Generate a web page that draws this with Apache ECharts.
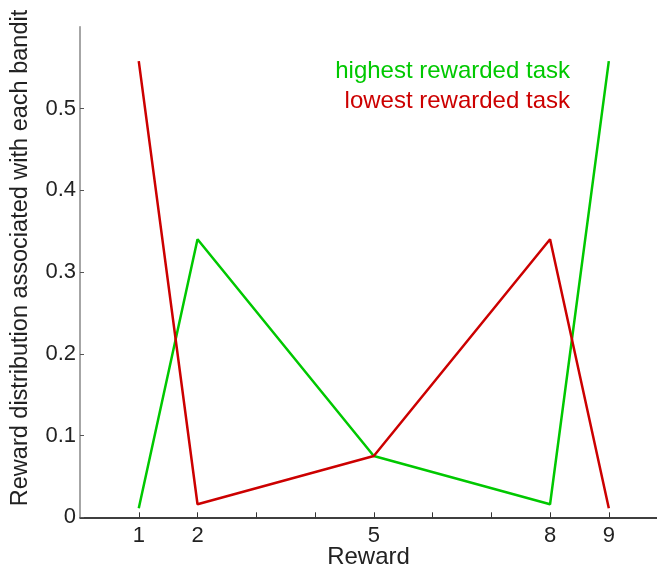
<!DOCTYPE html>
<html>
<head>
<meta charset="utf-8">
<script src="https://cdn.jsdelivr.net/npm/echarts@6/dist/echarts.min.js"></script>
<style>
html,body{margin:0;padding:0;background:#fff;}
#chart{width:657px;height:572px;}
</style>
</head>
<body>
<div id="chart"></div>
<script>
const rewards = [1, 2, 5, 8, 9];
const highestTask = [0.011, 0.34, 0.075, 0.016, 0.558];
const lowestTask = [0.558, 0.016, 0.075, 0.34, 0.011];
const seriesNames = ['highest rewarded task', 'lowest rewarded task'];
const seriesColors = ['#00c800', '#cc0000'];
const xTickValues = [1, 2, 3, 4, 5, 6, 7, 8, 9];
const xLabelValues = [1, 2, 5, 8, 9];
const yLabelValues = [0, 0.1, 0.2, 0.3, 0.4, 0.5];

const font = '"Liberation Sans", Arial, Helvetica, sans-serif';
const chart = echarts.init(document.getElementById('chart'), null, {renderer: 'canvas'});

function pairs(xs, ys) { return xs.map((x, i) => [x, ys[i]]); }

chart.setOption({
  animation: false,
  backgroundColor: '#fff',
  grid: {left: 80, top: 26.7, bottom: 54.7, right: 0, containLabel: false, outerBoundsMode: 'none'},
  xAxis: {
    type: 'value', min: 0, max: 9.82, interval: 1,
    name: 'Reward', nameLocation: 'middle', nameGap: 28, nameMoveOverlap: false,
    nameTextStyle: {fontFamily: font, fontSize: 24, color: '#222'},
    axisLine: {show: true, lineStyle: {color: '#000', width: 1.5}},
    axisTick: {show: true, inside: true, length: 5, customValues: xTickValues, lineStyle: {color: '#333', width: 1}},
    axisLabel: {customValues: xLabelValues, fontFamily: font, fontSize: 22, color: '#222', margin: 8},
    splitLine: {show: false}
  },
  yAxis: {
    type: 'value', min: 0, max: 0.6, interval: 0.1,
    name: 'Reward distribution associated with each bandit', nameLocation: 'middle', nameGap: 47, nameMoveOverlap: false,
    nameTextStyle: {fontFamily: font, fontSize: 23.5, color: '#222', padding: [0, 0, 0, 28]},
    axisLine: {show: true, lineStyle: {color: '#888', width: 1.5}},
    axisTick: {show: true, inside: true, length: 4, customValues: yLabelValues, lineStyle: {color: '#555', width: 1}},
    axisLabel: {customValues: yLabelValues, fontFamily: font, fontSize: 22, color: '#222', margin: 4,
      formatter: v => (v === 0 ? '0' : String(Math.round(v * 10) / 10))},
    splitLine: {show: false}
  },
  series: [
    {name: seriesNames[0], type: 'line', data: pairs(rewards, highestTask), symbol: 'none',
      lineStyle: {color: seriesColors[0], width: 2.5}, itemStyle: {color: seriesColors[0]}},
    {name: seriesNames[1], type: 'line', data: pairs(rewards, lowestTask), symbol: 'none',
      lineStyle: {color: seriesColors[1], width: 2.5}, itemStyle: {color: seriesColors[1]}}
  ],
  graphic: seriesNames.map((n, i) => ({
    type: 'text', right: 87, top: 59 + i * 30,
    style: {text: n, fill: seriesColors[i], font: '24px ' + font, textAlign: 'right'}
  }))
});
</script>
</body>
</html>
